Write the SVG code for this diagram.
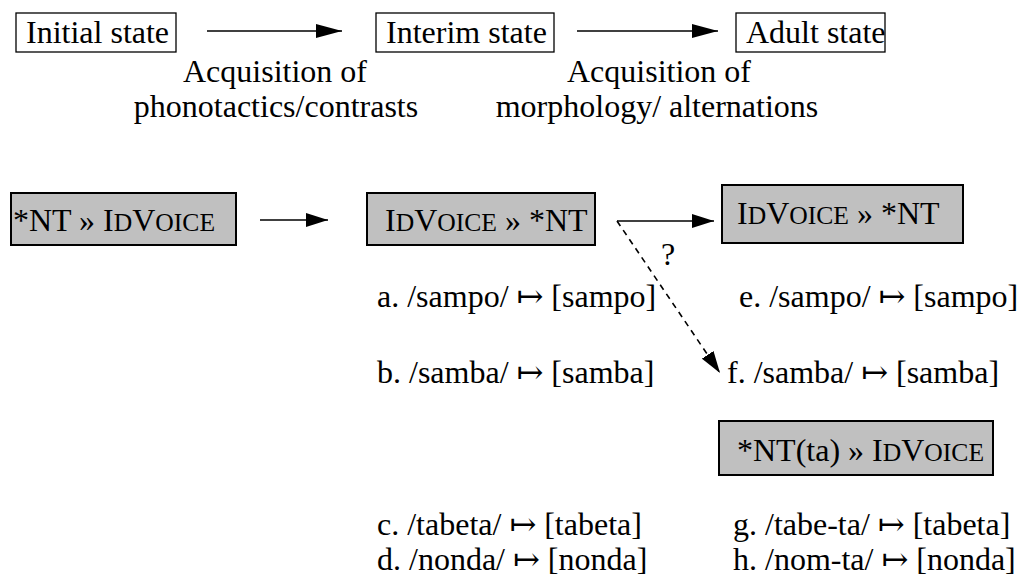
<svg xmlns="http://www.w3.org/2000/svg" width="1031" height="584" viewBox="0 0 1031 584">
<style>
text{font-family:"Liberation Serif","Times New Roman","DejaVu Serif",serif;font-size:32px;fill:#000}
.sc{font-size:25.6px}
.state{fill:#fff;stroke:#000;stroke-width:1.3}
.ot{fill:#c0c0c0;stroke:#000;stroke-width:2}
.conn{stroke:#000;stroke-width:1.6;fill:none}
.dash{stroke-dasharray:6 5}
</style>
<defs>
<marker id="ah" markerUnits="userSpaceOnUse" viewBox="0 0 22 14" markerWidth="22" markerHeight="14" refX="22" refY="7" orient="auto">
<path d="M0,0 L22,7 L0,14 z" fill="#000"/>
</marker>
<marker id="ahTop" markerUnits="userSpaceOnUse" viewBox="0 0 26 14" markerWidth="26" markerHeight="14" refX="26" refY="7" orient="auto">
<path d="M0,0 L26,7 L0,14 z" fill="#000"/>
</marker>
</defs>
<rect width="1031" height="584" fill="#fff"/>
<g id="initial"><rect class="state" x="16" y="13" width="160" height="39"/><text x="26" y="43">Initial state</text></g>
<g id="interim"><rect class="state" x="376" y="13" width="178" height="39"/><text x="386" y="43">Interim state</text></g>
<g id="adult"><rect class="state" x="736" y="13" width="149" height="39"/><text x="746" y="43">Adult state</text></g>
<g id="label1"><text x="275" y="82" text-anchor="middle">Acquisition of</text><text x="276" y="117" text-anchor="middle">phonotactics/contrasts</text></g>
<g id="label2"><text x="659" y="82" text-anchor="middle">Acquisition of</text><text x="657" y="117" text-anchor="middle">morphology/ alternations</text></g>
<g id="ot1"><rect class="ot" x="11" y="193" width="225" height="52"/><text x="13" y="231">*NT » I<tspan class="sc">D</tspan>V<tspan class="sc">OICE</tspan></text></g>
<g id="ot2"><rect class="ot" x="367" y="193" width="228" height="52"/><text x="385" y="231">I<tspan class="sc">D</tspan>V<tspan class="sc">OICE</tspan> » *NT</text></g>
<g id="ot3"><rect class="ot" x="722" y="185" width="241" height="58"/><text x="737" y="224">I<tspan class="sc">D</tspan>V<tspan class="sc">OICE</tspan> » *NT</text></g>
<g id="ot4"><rect class="ot" x="719" y="421" width="274" height="54"/><text x="737" y="461">*NT(ta) » I<tspan class="sc">D</tspan>V<tspan class="sc">OICE</tspan></text></g>
<g id="connectors">
<line class="conn" x1="207" y1="31" x2="342" y2="31" marker-end="url(#ahTop)"/>
<line class="conn" x1="577" y1="31" x2="718" y2="31" marker-end="url(#ahTop)"/>
<line class="conn" x1="260" y1="220" x2="328" y2="220" marker-end="url(#ah)"/>
<line class="conn" x1="617" y1="221" x2="714" y2="221" marker-end="url(#ah)"/>
<line class="conn dash" x1="617" y1="221" x2="720" y2="373" marker-end="url(#ah)"/>
<text x="661" y="265" font-size="28">?</text>
</g>
<g id="examples">
<text x="377" y="307">a. /sampo/ ↦ [sampo]</text>
<text x="377" y="383">b. /samba/ ↦ [samba]</text>
<text x="377" y="535">c. /tabeta/ ↦ [tabeta]</text>
<text x="377" y="570">d. /nonda/ ↦ [nonda]</text>
<text x="739" y="307">e. /sampo/ ↦ [sampo]</text>
<text x="727" y="383">f. /samba/ ↦ [samba]</text>
<text x="733" y="535">g. /tabe-ta/ ↦ [tabeta]</text>
<text x="733" y="570">h. /nom-ta/ ↦ [nonda]</text>
</g>
</svg>
